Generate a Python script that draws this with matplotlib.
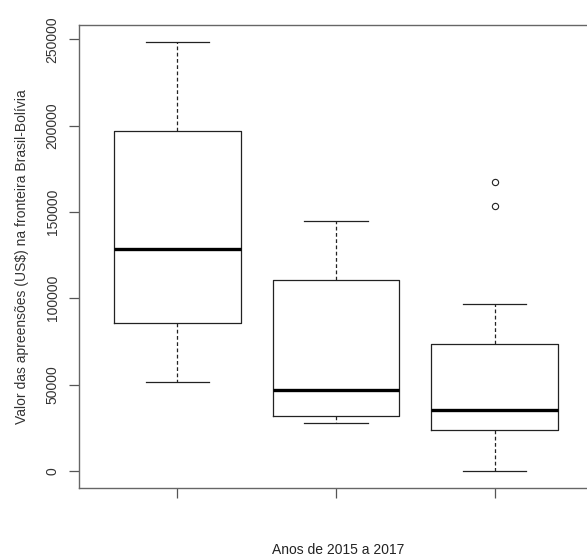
import matplotlib
matplotlib.use("Agg")
import matplotlib.pyplot as plt

plt.rcParams["font.family"] = ["Liberation Sans", "DejaVu Sans"]

# five-number summaries (US$)
groups = ["2015", "2016", "2017"]
whislo = [51700, 27700, 0]
q1 = [85900, 31600, 23800]
med = [128500, 46700, 35500]
q3 = [196700, 110500, 73300]
whishi = [248400, 144800, 96700]
fliers = [[], [], [167400, 153300]]

stats = []
for i, g in enumerate(groups):
    stats.append(dict(label=g, whislo=whislo[i], q1=q1[i], med=med[i],
                      q3=q3[i], whishi=whishi[i], fliers=fliers[i]))

fig = plt.figure(figsize=(5.87, 5.59), dpi=100)
ax = fig.add_axes([79 / 587, 71 / 559, 514 / 587, 463 / 559])

line_col = "#222222"
ax.bxp(stats, positions=[1, 2, 3], widths=0.8, showfliers=True,
       boxprops=dict(color=line_col, linewidth=0.9),
       medianprops=dict(color="black", linewidth=2.4),
       whiskerprops=dict(color=line_col, linewidth=0.9, linestyle=(0, (3, 2))),
       capprops=dict(color=line_col, linewidth=0.9),
       flierprops=dict(marker="o", markersize=4.5, markerfacecolor="none",
                       markeredgecolor=line_col, markeredgewidth=0.8))

# R-style 4% axis extension
ymax = 248400
ax.set_xlim(0.38, 3.62)
ax.set_ylim(-0.04 * ymax, 1.04 * ymax)
ax.set_xticks([1, 2, 3])
ax.set_xticklabels(["", "", ""])
ax.set_yticks([0, 50000, 100000, 150000, 200000, 250000])
ax.set_yticklabels(["0", "50000", "100000", "150000", "200000", "250000"],
                   rotation=90, va="center")

for s in ax.spines.values():
    s.set_color("#666666")
    s.set_linewidth(1.0)
ax.tick_params(axis="both", colors="#555555", length=7, width=0.9,
               labelsize=10, labelcolor="#333333")
ax.tick_params(axis="y", pad=7)

ax.set_ylabel("Valor das apreensões (US$) na fronteira Brasil-Bolívia",
              fontsize=10, color="#333333", labelpad=12)
ax.set_xlabel("Anos de 2015 a 2017", fontsize=10, color="#222222")
ax.xaxis.set_label_coords(259 / 514, -55 / 463)

fig.savefig("out.png", dpi=100)
